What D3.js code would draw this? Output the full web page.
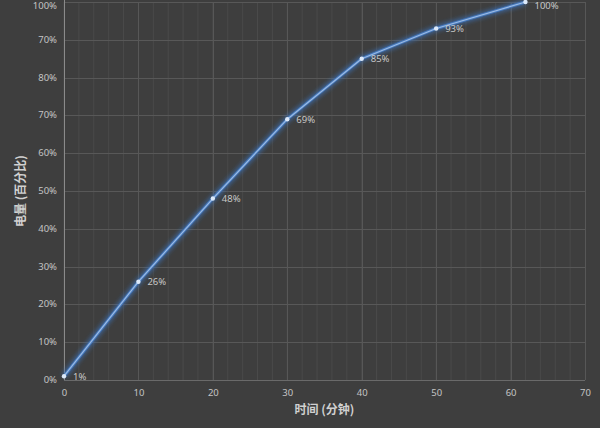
<!DOCTYPE html>
<html><head><meta charset="utf-8">
<script src="https://cdn.jsdelivr.net/npm/d3@7"></script>
<style>
html,body{margin:0;padding:0;background:#3f3f3f;}
svg{display:block;}
text{font-family:"Noto Sans CJK SC","Noto Sans",sans-serif;}
</style></head>
<body>
<svg id="c" width="600" height="428"></svg>
<script>
const minutes = [0, 10, 20, 30, 40, 50, 62];
const charge = [1, 26, 48, 69, 85, 93, 100];
const pointLabels = ["1%", "26%", "48%", "69%", "85%", "93%", "100%"];
const xTicks = [0, 10, 20, 30, 40, 50, 60, 70];
const yTicks = [0, 10, 20, 30, 40, 50, 60, 70, 80, 90, 100];
const yTickLabels = ["0%", "10%", "20%", "30%", "40%", "50%", "60%", "70%", "80%", "70%", "100%"];
const xMinor = d3.range(0, 70, 2);

const svg = d3.select("#c");
const W = 600, H = 428;
svg.append("rect").attr("width", W).attr("height", H).attr("fill", "#3e3e3e");

const x = d3.scaleLinear().domain([0, 70]).range([64, 585]);
const y = d3.scaleLinear().domain([0, 100]).range([380, 2]);
const minTextY = 6;

const defs = svg.append("defs");
const f = defs.append("filter").attr("id", "glow").attr("x", "-10%").attr("y", "-10%").attr("width", "120%").attr("height", "120%");
f.append("feGaussianBlur").attr("stdDeviation", 2);

// minor vertical grid
svg.append("g").selectAll("line").data(xMinor).join("line")
  .attr("x1", d => x(d)).attr("x2", d => x(d))
  .attr("y1", y(100)).attr("y2", y(0))
  .attr("stroke", "#4a4a4a").attr("stroke-width", 1);

// major grid
svg.append("g").selectAll("line").data(xTicks).join("line")
  .attr("x1", d => Math.round(x(d)) + 0.5).attr("x2", d => Math.round(x(d)) + 0.5)
  .attr("y1", y(100)).attr("y2", y(0))
  .attr("stroke", "#575757").attr("stroke-width", 1);
svg.append("g").selectAll("line").data(yTicks).join("line")
  .attr("x1", x(0)).attr("x2", x(70))
  .attr("y1", d => Math.round(y(d)) + 0.5).attr("y2", d => Math.round(y(d)) + 0.5)
  .attr("stroke", "#585858").attr("stroke-width", 1);

// axis lines
svg.append("line").attr("x1", x(0) + 0.5).attr("x2", x(0) + 0.5).attr("y1", 0).attr("y2", y(0))
  .attr("stroke", "#8a8a8a");
svg.append("line").attr("x1", x(0)).attr("x2", x(70)).attr("y1", y(0) + 0.5).attr("y2", y(0) + 0.5)
  .attr("stroke", "#6a6a6a");

// axes using d3 axis generators
const yAxis = d3.axisLeft(y).tickValues(yTicks).tickFormat((d, i) => yTickLabels[i]).tickSize(0).tickPadding(7);
const gy = svg.append("g").attr("transform", `translate(${x(0)},0)`).call(yAxis);
gy.select(".domain").remove();
gy.selectAll(".tick").attr("transform", d => `translate(0,${Math.max(y(d), minTextY)})`);
gy.selectAll("text").attr("fill", "#c4c4c4").attr("font-size", 9.5).style("font-family", "'Noto Sans','DejaVu Sans',sans-serif");

const xAxis = d3.axisBottom(x).tickValues(xTicks).tickFormat(d3.format("d")).tickSize(0).tickPadding(9);
const gx = svg.append("g").attr("transform", `translate(0,${y(0)})`).call(xAxis);
gx.select(".domain").remove();
gx.selectAll("text").attr("fill", "#c4c4c4").attr("font-size", 9.5).style("font-family", "'Noto Sans','DejaVu Sans',sans-serif");

// line
const pts = minutes.map((m, i) => [m, charge[i]]);
const line = d3.line().x(d => x(d[0])).y(d => y(d[1]));
svg.append("path").datum(pts).attr("d", line).attr("fill", "none")
  .attr("stroke", "#3a6fb5").attr("stroke-width", 6).attr("stroke-opacity", 0.7)
  .attr("filter", "url(#glow)").attr("stroke-linejoin", "round");
svg.append("path").datum(pts).attr("d", line).attr("fill", "none")
  .attr("stroke", "#4679bd").attr("stroke-width", 3).attr("stroke-linejoin", "round");
svg.append("path").datum(pts).attr("d", line).attr("fill", "none")
  .attr("stroke", "#9bbbe4").attr("stroke-width", 1.2).attr("stroke-linejoin", "round");

svg.append("g").selectAll("circle").data(pts).join("circle")
  .attr("cx", d => x(d[0])).attr("cy", d => y(d[1])).attr("r", 2.2)
  .attr("fill", "#dce9fa");

svg.append("g").selectAll("text").data(pts).join("text")
  .attr("x", d => x(d[0]) + 9).attr("y", d => Math.max(y(d[1]) + 1, minTextY))
  .attr("dominant-baseline", "middle")
  .attr("fill", "#c8c8c8").attr("font-size", 9.5)
  .style("font-family", "'Noto Sans','DejaVu Sans',sans-serif")
  .text((d, i) => pointLabels[i]);

// axis titles
svg.append("text").attr("x", (x(0) + x(70)) / 2).attr("y", 411)
  .attr("text-anchor", "middle").attr("dominant-baseline", "middle")
  .attr("fill", "#d0d0d0").attr("font-size", 12).attr("font-weight", "bold")
  .text("时间 (分钟)");
svg.append("text").attr("transform", `translate(22,${y(50)}) rotate(-90)`)
  .attr("text-anchor", "middle").attr("dominant-baseline", "middle")
  .attr("fill", "#d0d0d0").attr("font-size", 12).attr("font-weight", "bold")
  .text("电量 (百分比)");
</script>
</body></html>
